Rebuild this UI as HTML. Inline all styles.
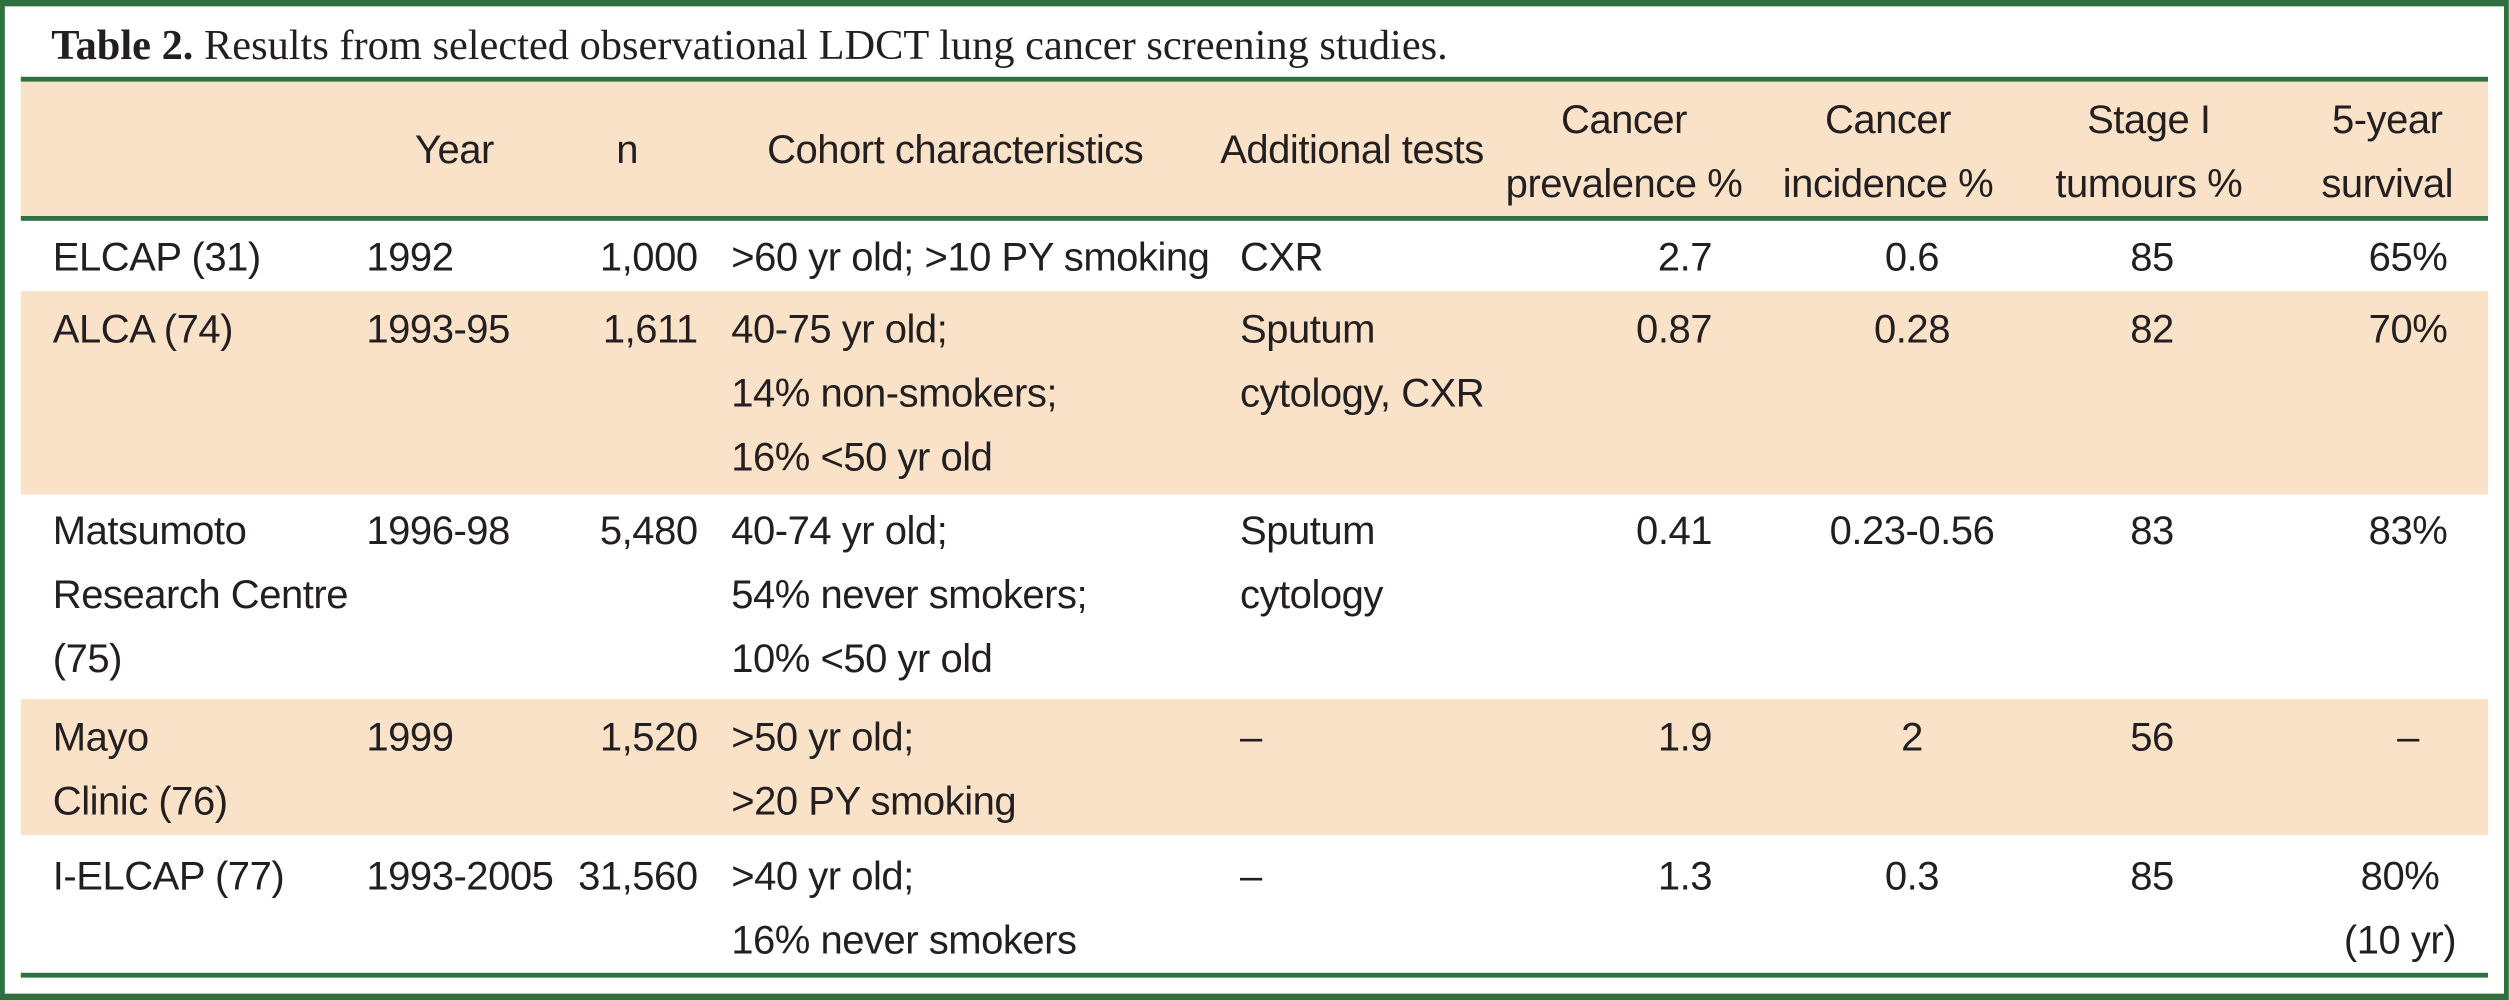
<!DOCTYPE html>
<html><head><meta charset="utf-8"><style>
html,body{margin:0;padding:0;width:2509px;height:998px;overflow:hidden;background:#fff}
#wrap{position:absolute;left:0;top:0;width:1568px;height:624px;transform:scale(1.6);transform-origin:0 0;font-family:"Liberation Sans",sans-serif;font-size:25px;letter-spacing:-0.3px;color:#231f20}
.frame{position:absolute;left:0;top:0;width:1562px;height:617px;border:3px solid #2e7040;border-top-width:4px;border-bottom-width:4px}
.band{position:absolute;left:13px;width:1542px;background:#f9e2c8}
.rule{position:absolute;left:13px;width:1542px;height:3px;background:#2e7040}
.c{position:absolute;line-height:40px;white-space:nowrap}
.r{text-align:right}.m{text-align:center}
.title{position:absolute;left:32px;top:13px;font-family:"Liberation Serif",serif;font-size:26.5px;letter-spacing:0;line-height:30px;white-space:nowrap}
</style></head><body>
<div id="wrap">
<div class="frame"></div>
<div class="title"><b>Table 2.</b> Results from selected observational LDCT lung cancer screening studies.</div>
<div class="band" style="top:51px;height:84px"></div>
<div class="band" style="top:182px;height:127px"></div>
<div class="band" style="top:437px;height:85px"></div>
<div class="rule" style="top:48px"></div>
<div class="rule" style="top:135px"></div>
<div class="rule" style="top:608px"></div>

<div class="c m" style="left:244px;width:80px;top:74px">Year</div>
<div class="c m" style="left:372px;width:40px;top:74px">n</div>
<div class="c m" style="left:447px;width:300px;top:74px">Cohort characteristics</div>
<div class="c m" style="left:745px;width:200px;top:74px">Additional tests</div>
<div class="c m" style="left:935px;width:160px;top:55px">Cancer<br>prevalence %</div>
<div class="c m" style="left:1100px;width:160px;top:55px">Cancer<br>incidence %</div>
<div class="c m" style="left:1268px;width:150px;top:55px">Stage I<br>tumours %</div>
<div class="c m" style="left:1432px;width:120px;top:55px">5-year<br>survival</div>

<div class="c" style="left:33px;top:141px">ELCAP (31)</div>
<div class="c" style="left:229px;top:141px">1992</div>
<div class="c r" style="left:336px;width:100px;top:141px">1,000</div>
<div class="c" style="left:457px;top:141px">&gt;60 yr old; &gt;10 PY smoking</div>
<div class="c" style="left:775px;top:141px">CXR</div>
<div class="c r" style="left:970px;width:100px;top:141px">2.7</div>
<div class="c m" style="left:1145px;width:100px;top:141px">0.6</div>
<div class="c m" style="left:1295px;width:100px;top:141px">85</div>
<div class="c m" style="left:1450px;width:110px;top:141px">65%</div>

<div class="c" style="left:33px;top:186px">ALCA (74)</div>
<div class="c" style="left:229px;top:186px">1993-95</div>
<div class="c r" style="left:336px;width:100px;top:186px">1,611</div>
<div class="c" style="left:457px;top:186px">40-75 yr old;<br>14% non-smokers;<br>16% &lt;50 yr old</div>
<div class="c" style="left:775px;top:186px">Sputum<br>cytology, CXR</div>
<div class="c r" style="left:970px;width:100px;top:186px">0.87</div>
<div class="c m" style="left:1145px;width:100px;top:186px">0.28</div>
<div class="c m" style="left:1295px;width:100px;top:186px">82</div>
<div class="c m" style="left:1450px;width:110px;top:186px">70%</div>

<div class="c" style="left:33px;top:312px">Matsumoto<br>Research Centre<br>(75)</div>
<div class="c" style="left:229px;top:312px">1996-98</div>
<div class="c r" style="left:336px;width:100px;top:312px">5,480</div>
<div class="c" style="left:457px;top:312px">40-74 yr old;<br>54% never smokers;<br>10% &lt;50 yr old</div>
<div class="c" style="left:775px;top:312px">Sputum<br>cytology</div>
<div class="c r" style="left:970px;width:100px;top:312px">0.41</div>
<div class="c m" style="left:1115px;width:160px;top:312px">0.23-0.56</div>
<div class="c m" style="left:1295px;width:100px;top:312px">83</div>
<div class="c m" style="left:1450px;width:110px;top:312px">83%</div>

<div class="c" style="left:33px;top:441px">Mayo<br>Clinic (76)</div>
<div class="c" style="left:229px;top:441px">1999</div>
<div class="c r" style="left:336px;width:100px;top:441px">1,520</div>
<div class="c" style="left:457px;top:441px">&gt;50 yr old;<br>&gt;20 PY smoking</div>
<div class="c" style="left:775px;top:441px">–</div>
<div class="c r" style="left:970px;width:100px;top:441px">1.9</div>
<div class="c m" style="left:1145px;width:100px;top:441px">2</div>
<div class="c m" style="left:1295px;width:100px;top:441px">56</div>
<div class="c m" style="left:1450px;width:110px;top:441px">–</div>

<div class="c" style="left:33px;top:528px">I-ELCAP (77)</div>
<div class="c" style="left:229px;top:528px">1993-2005</div>
<div class="c r" style="left:336px;width:100px;top:528px">31,560</div>
<div class="c" style="left:457px;top:528px">&gt;40 yr old;<br>16% never smokers</div>
<div class="c" style="left:775px;top:528px">–</div>
<div class="c r" style="left:970px;width:100px;top:528px">1.3</div>
<div class="c m" style="left:1145px;width:100px;top:528px">0.3</div>
<div class="c m" style="left:1295px;width:100px;top:528px">85</div>
<div class="c m" style="left:1440px;width:120px;top:528px">80%<br>(10 yr)</div>
</div>
</body></html>
